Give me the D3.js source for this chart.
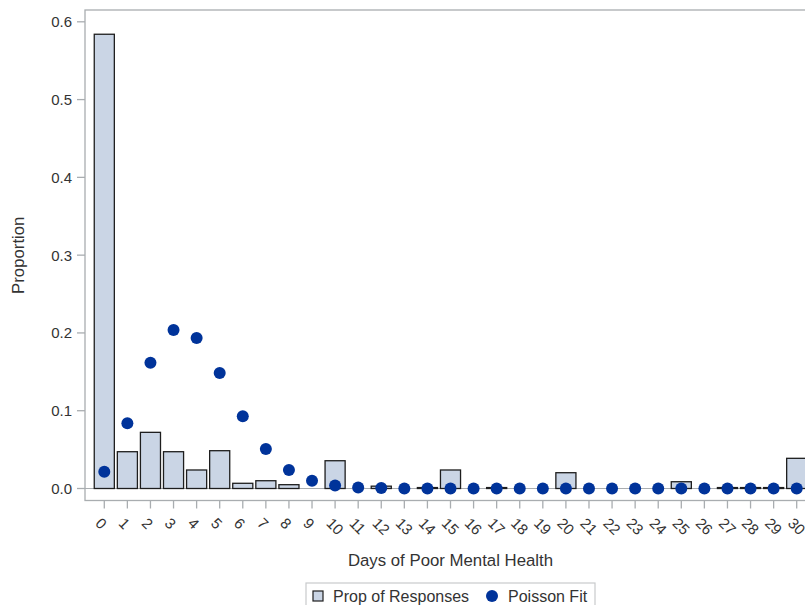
<!DOCTYPE html>
<html>
<head>
<meta charset="utf-8">
<script src="https://cdn.jsdelivr.net/npm/d3@7"></script>
<style>
  html, body { margin: 0; padding: 0; background: #ffffff; }
  svg { display: block; font-family: "Liberation Sans", Arial, sans-serif; }
</style>
</head>
<body>
<svg id="chart" width="805" height="605"></svg>
<script>
// ---- data ----
const days = d3.range(0, 31);
const propResponses = [
  0.584, 0.0473, 0.0722, 0.0473, 0.0238, 0.0486, 0.0067, 0.0100, 0.0049, 0.0,
  0.0357, 0.0, 0.0030, 0.0, 0.0012, 0.0238, 0.0, 0.0012, 0.0, 0.0,
  0.0203, 0.0, 0.0, 0.0, 0.0, 0.0087, 0.0, 0.0012, 0.0012, 0.0012,
  0.0388
];
const poissonFit = [
  0.0216, 0.0838, 0.1618, 0.2038, 0.1935, 0.1485, 0.0928, 0.0508, 0.0238, 0.0100,
  0.0040, 0.0014, 0.0005, 0.0001, 0.0, 0.0, 0.0, 0.0, 0.0, 0.0,
  0.0, 0.0, 0.0, 0.0, 0.0, 0.0, 0.0, 0.0, 0.0, 0.0,
  0.0
];
const yTicks = [0.0, 0.1, 0.2, 0.3, 0.4, 0.5, 0.6];
const xTitle = "Days of Poor Mental Health";
const yTitle = "Proportion";
const legendLabels = ["Prop of Responses", "Poisson Fit"];

// ---- layout ----
const frame = { left: 85, top: 10, right: 816, bottom: 500.5 };
const barFill = "#cad5e5";
const barStroke = "#1e1e1e";
const dotColor = "#00339a";
const axisColor = "#a9adb0";
const textColor = "#333333";

const svg = d3.select("#chart");

const x = d3.scalePoint().domain(days).range([frame.left, frame.right]).padding(0.836);
const step = x.step();
const barW = step * 0.87;
const y = d3.scaleLinear().domain([0, 0.6]).range([488.5, 21.8]);

// frame
svg.append("rect")
  .attr("x", frame.left).attr("y", frame.top)
  .attr("width", frame.right - frame.left).attr("height", frame.bottom - frame.top)
  .attr("fill", "none").attr("stroke", axisColor).attr("stroke-width", 1.3);

// baseline at 0
svg.append("line")
  .attr("x1", frame.left).attr("x2", frame.right)
  .attr("y1", y(0)).attr("y2", y(0))
  .attr("stroke", axisColor).attr("stroke-width", 1.2);

// bars
svg.append("g").selectAll("rect")
  .data(days.filter(d => propResponses[d] > 0))
  .join("rect")
  .attr("x", d => x(d) - barW / 2)
  .attr("y", d => y(propResponses[d]))
  .attr("width", barW)
  .attr("height", d => y(0) - y(propResponses[d]))
  .attr("fill", barFill)
  .attr("stroke", barStroke)
  .attr("stroke-width", 1.3);

// poisson dots
svg.append("g").selectAll("circle")
  .data(days)
  .join("circle")
  .attr("cx", d => x(d))
  .attr("cy", d => y(poissonFit[d]))
  .attr("r", 6)
  .attr("fill", dotColor);

// y axis ticks
const yAxis = svg.append("g");
yAxis.selectAll("line").data(yTicks).join("line")
  .attr("x1", frame.left - 8).attr("x2", frame.left)
  .attr("y1", d => y(d)).attr("y2", d => y(d))
  .attr("stroke", axisColor).attr("stroke-width", 1.3);
yAxis.selectAll("text").data(yTicks).join("text")
  .attr("x", frame.left - 13)
  .attr("y", d => y(d))
  .attr("dy", "0.36em")
  .attr("text-anchor", "end")
  .attr("font-size", 15)
  .attr("fill", textColor)
  .text(d => d3.format(".1f")(d));

// x axis ticks
const xAxis = svg.append("g");
xAxis.selectAll("line").data(days).join("line")
  .attr("x1", d => x(d)).attr("x2", d => x(d))
  .attr("y1", frame.bottom).attr("y2", frame.bottom + 8)
  .attr("stroke", axisColor).attr("stroke-width", 1.3);
xAxis.selectAll("text").data(days).join("text")
  .attr("transform", d => `translate(${x(d) - 6},${frame.bottom + 20}) rotate(45)`)
  .attr("dy", "0.35em")
  .attr("text-anchor", "start")
  .attr("font-size", 15)
  .attr("fill", textColor)
  .text(d => String(d));

// titles
svg.append("text")
  .attr("x", (frame.left + frame.right) / 2)
  .attr("y", 566)
  .attr("text-anchor", "middle")
  .attr("font-size", 16.8)
  .attr("fill", textColor)
  .text(xTitle);

svg.append("text")
  .attr("transform", `translate(24,${(frame.top + frame.bottom) / 2}) rotate(-90)`)
  .attr("text-anchor", "middle")
  .attr("font-size", 16.8)
  .attr("fill", textColor)
  .text(yTitle);

// legend
const lg = svg.append("g");
lg.append("rect")
  .attr("x", 306).attr("y", 583).attr("width", 289).attr("height", 40)
  .attr("fill", "#ffffff").attr("stroke", "#c8cacc").attr("stroke-width", 1.2);
lg.append("rect")
  .attr("x", 313).attr("y", 591).attr("width", 10).attr("height", 10)
  .attr("fill", barFill).attr("stroke", barStroke).attr("stroke-width", 1.2);
lg.append("text")
  .attr("x", 333).attr("y", 601.5)
  .attr("font-size", 16).attr("fill", textColor)
  .text(legendLabels[0]);
lg.append("circle")
  .attr("cx", 492).attr("cy", 596).attr("r", 6).attr("fill", dotColor);
lg.append("text")
  .attr("x", 508).attr("y", 601.5)
  .attr("font-size", 16).attr("fill", textColor)
  .text(legendLabels[1]);
</script>
</body>
</html>
